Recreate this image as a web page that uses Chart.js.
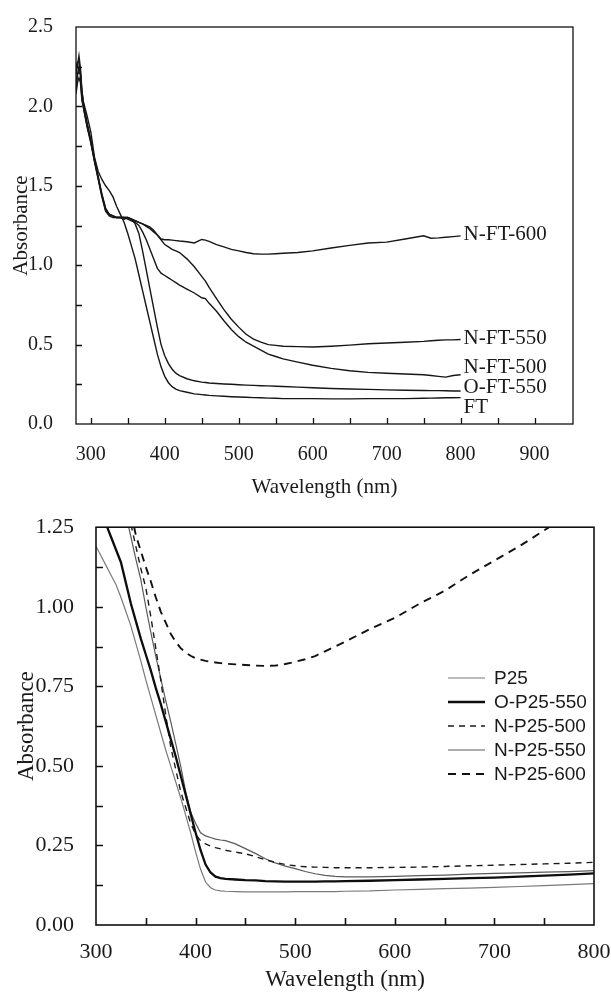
<!DOCTYPE html>
<html>
<head>
<meta charset="utf-8">
<script src="https://cdn.jsdelivr.net/npm/chart.js@4.4.0/dist/chart.umd.min.js"></script>
<style>
body { margin: 0; background: #fff; }
canvas { display: block; }
</style>
</head>
<body>
<canvas id="topChart" width="611" height="500"></canvas>
<canvas id="bottomChart" width="611" height="494"></canvas>
<script>
// upper panel: FT samples
const topWavelengths = [280,282,284,286,288,290,295,300,305,310,315,320,325,330,335,340,345,350,355,360,
  365,370,375,380,385,390,395,400,405,410,415,420,430,440,450,455,460,470,480,490,
  500,510,520,530,540,550,560,580,600,625,650,675,700,725,750,760,770,780,790,800];
const ftValues = [2.20,2.26,2.32,2.24,2.10,2.03,1.94,1.84,1.68,1.59,1.54,1.50,1.47,1.43,1.37,1.32,1.27,1.20,1.12,1.04,
  0.94,0.84,0.74,0.64,0.54,0.44,0.36,0.30,0.26,0.235,0.22,0.21,0.20,0.19,0.185,0.183,0.18,0.177,0.175,0.172,
  0.17,0.168,0.166,0.165,0.163,0.162,0.16,0.16,0.16,0.158,0.158,0.16,0.16,0.16,0.162,0.163,0.164,0.165,0.165,0.166];
const oft550Values = [2.10,2.20,2.25,2.20,2.06,2.00,1.88,1.78,1.66,1.55,1.44,1.35,1.32,1.31,1.30,1.30,1.30,1.30,1.29,1.26,
  1.20,1.09,0.97,0.85,0.73,0.61,0.50,0.43,0.38,0.345,0.32,0.305,0.285,0.272,0.264,0.261,0.258,0.255,0.252,0.25,
  0.247,0.245,0.243,0.241,0.24,0.238,0.236,0.232,0.228,0.224,0.22,0.218,0.215,0.213,0.211,0.21,0.21,0.209,0.208,0.208];
const nft500Values = [2.25,2.28,2.28,2.22,2.10,2.02,1.90,1.79,1.67,1.56,1.45,1.36,1.32,1.31,1.30,1.30,1.30,1.29,1.28,1.27,
  1.25,1.21,1.16,1.10,1.04,0.98,0.95,0.935,0.92,0.905,0.89,0.875,0.85,0.825,0.795,0.79,0.76,0.71,0.65,0.595,
  0.55,0.515,0.49,0.465,0.44,0.425,0.41,0.39,0.37,0.35,0.335,0.325,0.32,0.315,0.31,0.305,0.30,0.295,0.305,0.31];
const nft550Values = [2.15,2.20,2.22,2.20,2.05,2.00,1.88,1.78,1.66,1.55,1.44,1.35,1.32,1.31,1.30,1.30,1.30,1.30,1.29,1.28,
  1.27,1.26,1.245,1.23,1.21,1.19,1.16,1.13,1.115,1.10,1.09,1.08,1.04,0.99,0.93,0.90,0.86,0.79,0.72,0.66,
  0.61,0.565,0.535,0.515,0.50,0.495,0.49,0.487,0.485,0.49,0.497,0.505,0.51,0.515,0.52,0.524,0.527,0.53,0.53,0.532];
const nft600Values = [2.08,2.15,2.18,2.15,2.04,1.99,1.87,1.77,1.65,1.54,1.43,1.34,1.31,1.30,1.30,1.30,1.29,1.30,1.29,1.28,
  1.27,1.26,1.25,1.24,1.22,1.19,1.165,1.16,1.16,1.158,1.155,1.152,1.148,1.14,1.162,1.158,1.15,1.13,1.115,1.10,
  1.09,1.08,1.072,1.07,1.07,1.072,1.075,1.08,1.09,1.108,1.125,1.14,1.145,1.165,1.185,1.17,1.172,1.176,1.18,1.185];
const topNames = ['FT', 'O-FT-550', 'N-FT-500', 'N-FT-550', 'N-FT-600'];
const topXTicks = [300, 400, 500, 600, 700, 800, 900];
const topYTicks = [0, 0.5, 1.0, 1.5, 2.0, 2.5];

// lower panel: P25 samples
const bottomWavelengths = [300,305,310,315,320,325,330,335,340,345,350,355,360,365,370,375,380,385,390,395,
  400,405,410,415,420,425,430,440,450,460,470,480,490,500,510,520,530,540,550,575,
  600,625,650,675,700,725,750,775,800];
const p25Values = [1.19,1.16,1.13,1.10,1.07,1.03,0.985,0.94,0.885,0.83,0.77,0.715,0.66,0.605,0.55,0.50,0.45,0.40,0.345,0.29,
  0.23,0.175,0.135,0.117,0.11,0.107,0.106,0.105,0.104,0.104,0.104,0.104,0.104,0.105,0.105,0.105,0.105,0.105,0.106,0.107,
  0.11,0.112,0.114,0.116,0.118,0.121,0.124,0.127,0.13];
const op25550Values = [1.34,1.30,1.26,1.22,1.18,1.14,1.075,1.01,0.955,0.90,0.85,0.80,0.745,0.695,0.64,0.585,0.53,0.47,0.41,0.35,
  0.29,0.235,0.19,0.165,0.152,0.147,0.145,0.143,0.141,0.14,0.138,0.137,0.136,0.136,0.136,0.136,0.137,0.137,0.138,0.139,
  0.141,0.143,0.145,0.147,0.149,0.152,0.155,0.158,0.162];
const np25500Values = [1.80,1.72,1.65,1.57,1.50,1.42,1.33,1.26,1.19,1.12,1.06,0.97,0.87,0.77,0.66,0.56,0.49,0.42,0.37,0.32,
  0.285,0.265,0.255,0.248,0.243,0.239,0.235,0.229,0.224,0.215,0.205,0.197,0.19,0.186,0.183,0.182,0.181,0.18,0.18,0.18,
  0.181,0.182,0.184,0.186,0.188,0.19,0.192,0.194,0.197];
const np25550Values = [1.75,1.68,1.61,1.53,1.46,1.38,1.29,1.22,1.15,1.085,1.00,0.92,0.845,0.775,0.705,0.64,0.57,0.50,0.42,0.355,
  0.32,0.29,0.28,0.275,0.27,0.267,0.265,0.255,0.24,0.225,0.208,0.195,0.185,0.177,0.168,0.161,0.156,0.153,0.151,0.151,
  0.153,0.155,0.157,0.16,0.162,0.164,0.166,0.168,0.171];
const np25600Values = [1.90,1.80,1.70,1.61,1.52,1.44,1.37,1.30,1.225,1.175,1.125,1.08,1.03,0.985,0.95,0.915,0.89,0.87,0.856,0.846,
  0.838,0.834,0.83,0.827,0.825,0.823,0.821,0.819,0.817,0.815,0.814,0.815,0.82,0.827,0.835,0.845,0.86,0.875,0.89,0.93,
  0.965,1.01,1.05,1.10,1.145,1.19,1.24,1.29,1.34];
const bottomNames = ['P25', 'O-P25-550', 'N-P25-500', 'N-P25-550', 'N-P25-600'];
const bottomXTicks = [300, 400, 500, 600, 700, 800];
const bottomYTicks = [0, 0.25, 0.5, 0.75, 1.0, 1.25];

const serif = "'Liberation Serif', 'Times New Roman', serif";
const sans = "'Liberation Sans', Arial, sans-serif";

function pts(xs, ys) {
  return xs.map((x, i) => ({ x: x, y: ys[i] }));
}

// box around the plot and inward tick marks
function frameTicks(xMarks, yMarks, len, lw) {
  return {
    id: 'frameTicks',
    afterDatasetsDraw(chart) {
      const ctx = chart.ctx, a = chart.chartArea, x = chart.scales.x, y = chart.scales.y;
      ctx.save();
      ctx.strokeStyle = '#111';
      ctx.lineWidth = lw;
      ctx.strokeRect(a.left, a.top, a.right - a.left, a.bottom - a.top);
      ctx.beginPath();
      xMarks.forEach(v => {
        const px = Math.round(x.getPixelForValue(v)) + 0.5;
        ctx.moveTo(px, a.bottom);
        ctx.lineTo(px, a.bottom - len);
      });
      yMarks.forEach(v => {
        const py = Math.round(y.getPixelForValue(v)) + 0.5;
        ctx.moveTo(a.left, py);
        ctx.lineTo(a.left + len, py);
      });
      ctx.stroke();
      ctx.restore();
    }
  };
}

// names written at the end of each top curve
const topLabelAt = [0.106, 0.23, 0.354, 0.541, 1.194];
const endLabels = {
  id: 'endLabels',
  afterDatasetsDraw(chart) {
    const ctx = chart.ctx, x = chart.scales.x, y = chart.scales.y;
    ctx.save();
    ctx.font = '21px ' + serif;
    ctx.fillStyle = '#1a1a1a';
    ctx.textBaseline = 'middle';
    ctx.textAlign = 'left';
    chart.data.datasets.forEach((ds, i) => {
      ctx.fillText(ds.label, x.getPixelForValue(800) + 3, y.getPixelForValue(topLabelAt[i]));
    });
    ctx.restore();
  }
};

const innerLegend = {
  id: 'innerLegend',
  afterDatasetsDraw(chart) {
    const ctx = chart.ctx;
    ctx.save();
    ctx.font = '19px ' + sans;
    ctx.textBaseline = 'middle';
    chart.data.datasets.forEach((ds, i) => {
      const yy = 178 + i * 24;
      ctx.strokeStyle = ds.borderColor;
      ctx.lineWidth = ds.borderWidth;
      ctx.setLineDash(ds.borderDash || []);
      ctx.beginPath();
      ctx.moveTo(448, yy);
      ctx.lineTo(485, yy);
      ctx.stroke();
      ctx.setLineDash([]);
      ctx.fillStyle = '#1a1a1a';
      ctx.fillText(ds.label, 494, yy + 1);
    });
    ctx.restore();
  }
};

function line(label, xs, ys, color, width, dash) {
  return {
    label: label,
    data: pts(xs, ys),
    borderColor: color,
    borderWidth: width,
    borderDash: dash || [],
    pointRadius: 0,
    tension: 0,
    fill: false,
    clip: 0
  };
}

const topSeries = [ftValues, oft550Values, nft500Values, nft550Values, nft600Values];

new Chart(document.getElementById('topChart'), {
  type: 'line',
  data: {
    datasets: topSeries.map((vals, i) => line(topNames[i], topWavelengths, vals, '#161616', 1.4))
  },
  options: {
    responsive: false,
    animation: false,
    layout: { padding: { top: 22, right: 38, left: 0, bottom: 0 } },
    plugins: { legend: { display: false }, tooltip: { enabled: false } },
    scales: {
      x: {
        type: 'linear', min: 280, max: 952,
        afterBuildTicks: s => { s.ticks = topXTicks.map(v => ({ value: v })); },
        afterFit: s => { s.height = 76; s.paddingLeft = 0; s.paddingRight = 0; },
        grid: { display: false },
        border: { display: false },
        ticks: { autoSkip: false, maxRotation: 0, padding: 11, color: '#1a1a1a', font: { family: serif, size: 20 } },
        title: { display: true, text: 'Wavelength (nm)', color: '#1a1a1a', font: { family: serif, size: 21 }, padding: { top: 0, bottom: 0 } }
      },
      y: {
        min: 0, max: 2.5,
        afterBuildTicks: s => { s.ticks = topYTicks.map(v => ({ value: v })); },
        afterFit: s => { s.width = 76; },
        grid: { display: false },
        border: { display: false },
        ticks: { autoSkip: false, padding: 15, color: '#1a1a1a', font: { family: serif, size: 20 }, callback: v => v.toFixed(1) },
        title: { display: true, text: 'Absorbance', color: '#1a1a1a', font: { family: serif, size: 21 }, padding: { top: 9, bottom: 0 } }
      }
    }
  },
  plugins: [frameTicks([300,350,400,450,500,550,600,650,700,750,800,850,900],
    [0.25,0.5,0.75,1.0,1.25,1.5,1.75,2.0,2.25], 6, 1.3), endLabels]
});

new Chart(document.getElementById('bottomChart'), {
  type: 'line',
  data: {
    datasets: [
      line(bottomNames[0], bottomWavelengths, p25Values, '#7a7a7a', 1.2),
      line(bottomNames[1], bottomWavelengths, op25550Values, '#0d0d0d', 2.3),
      line(bottomNames[2], bottomWavelengths, np25500Values, '#1a1a1a', 1.4, [6, 5]),
      line(bottomNames[3], bottomWavelengths, np25550Values, '#5a5a5a', 1.2),
      line(bottomNames[4], bottomWavelengths, np25600Values, '#111', 1.9, [8, 6])
    ]
  },
  options: {
    responsive: false,
    animation: false,
    layout: { padding: { top: 22, right: 17, left: 0, bottom: 0 } },
    plugins: { legend: { display: false }, tooltip: { enabled: false } },
    scales: {
      x: {
        type: 'linear', min: 300, max: 800,
        afterBuildTicks: s => { s.ticks = bottomXTicks.map(v => ({ value: v })); },
        afterFit: s => { s.height = 69; s.paddingLeft = 0; s.paddingRight = 0; },
        grid: { display: false },
        border: { display: false },
        ticks: { autoSkip: false, maxRotation: 0, padding: 6, color: '#1a1a1a', font: { family: serif, size: 22 } },
        title: { display: true, text: 'Wavelength (nm)', color: '#1a1a1a', font: { family: serif, size: 23 }, padding: { top: 0, bottom: 0 } }
      },
      y: {
        min: 0, max: 1.25,
        afterBuildTicks: s => { s.ticks = bottomYTicks.map(v => ({ value: v })); },
        afterFit: s => { s.width = 96; },
        grid: { display: false },
        border: { display: false },
        ticks: { autoSkip: false, padding: 14, color: '#1a1a1a', font: { family: serif, size: 22 }, callback: v => v.toFixed(2) },
        title: { display: true, text: 'Absorbance', color: '#1a1a1a', font: { family: serif, size: 23 }, padding: { top: 13, bottom: 0 } }
      }
    }
  },
  plugins: [frameTicks([350,400,450,500,550,600,650,700,750],
    [0.125,0.25,0.375,0.5,0.625,0.75,0.875,1.0,1.125], 7, 1.6), innerLegend]
});
</script>
</body>
</html>
